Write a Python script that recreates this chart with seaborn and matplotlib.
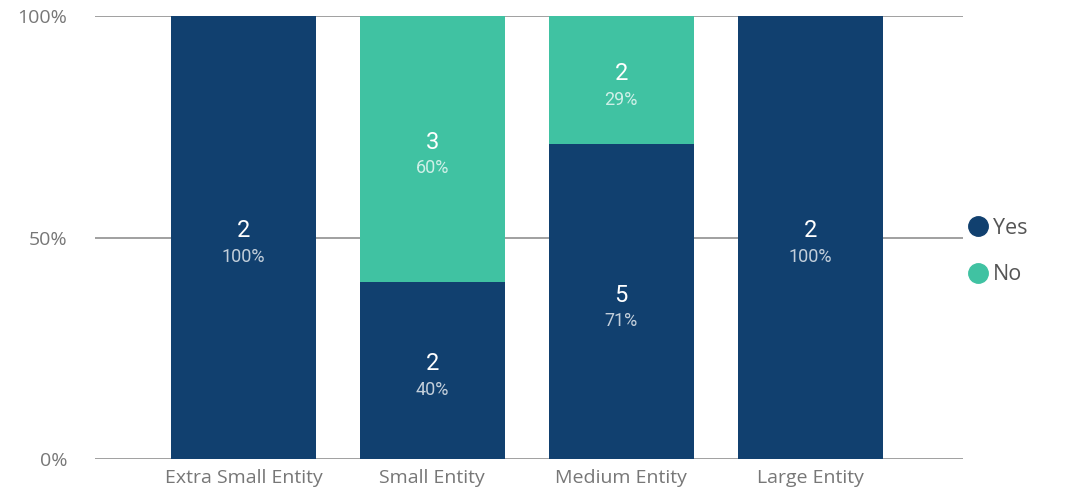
import matplotlib
matplotlib.use("Agg")
import matplotlib.pyplot as plt
import seaborn as sns
import pandas as pd
from matplotlib.lines import Line2D

categories = ["Extra Small Entity", "Small Entity", "Medium Entity", "Large Entity"]
yes_counts = [2, 2, 5, 2]
no_counts = [0, 3, 2, 0]
yes_pct = [100, 40, 71, 100]
no_pct = [0, 60, 29, 0]

YES_C = "#11406F"
NO_C = "#40C2A2"

sns.set_theme(style="white")
plt.rcParams['font.family'] = ['Open Sans', 'DejaVu Sans']

df = pd.DataFrame({"cat": categories, "yes": yes_pct, "no": no_pct})
df["total"] = df["yes"] + df["no"]

fig = plt.figure(figsize=(10.69, 4.93), dpi=100)
ax = fig.add_axes([0.0889, 0.069, 0.812, 0.8985])

for y in [0, 50, 100]:
    ax.axhline(y, color="#999999", lw=1.3, zorder=0)

sns.barplot(data=df, x="cat", y="total", color=NO_C, width=0.768, saturation=1,
            linewidth=0, edgecolor="none", ax=ax, zorder=2)
sns.barplot(data=df, x="cat", y="yes", color=YES_C, width=0.768, saturation=1,
            linewidth=0, edgecolor="none", ax=ax, zorder=3)

ax.set_xlim(-0.786, 3.81)
ax.set_ylim(0, 100)
ax.set_yticks([0, 50, 100])
ax.set_yticklabels(["0%", "50%", "100%"])
ax.set_xlabel("")
ax.set_ylabel("")
for s in ax.spines.values():
    s.set_visible(False)
ax.tick_params(axis="both", length=0, colors="#777777", labelsize=14)
ax.tick_params(axis="y", pad=20)
ax.tick_params(axis="x", pad=7)

def seg_label(x, bottom, height, count, pct):
    if count <= 0:
        return
    c = bottom + height / 2
    ax.annotate(str(count), (x, c), xytext=(0, 4.7), textcoords="offset points",
                ha="center", va="center", color="white", fontsize=17, zorder=5,
                family=["Roboto", "DejaVu Sans"])
    ax.annotate(f"{pct}%", (x, c), xytext=(0, -14), textcoords="offset points",
                ha="center", va="center", color="white", alpha=0.75, fontsize=13,
                zorder=5, family=["Roboto", "DejaVu Sans"])

for i in range(len(categories)):
    seg_label(i, 0, yes_pct[i], yes_counts[i], yes_pct[i])
    seg_label(i, yes_pct[i], no_pct[i], no_counts[i], no_pct[i])

handles = [Line2D([], [], marker="o", ls="", color=YES_C, markersize=14),
           Line2D([], [], marker="o", ls="", color=NO_C, markersize=14)]
fig.legend(handles, ["Yes", "No"], loc="center left", bbox_to_anchor=(0.895, 0.49),
           frameon=False, handletextpad=-0.3, labelspacing=1.2, fontsize=15.5,
           labelcolor="#555555", borderaxespad=0, borderpad=0)

fig.savefig("out.png", dpi=100)
